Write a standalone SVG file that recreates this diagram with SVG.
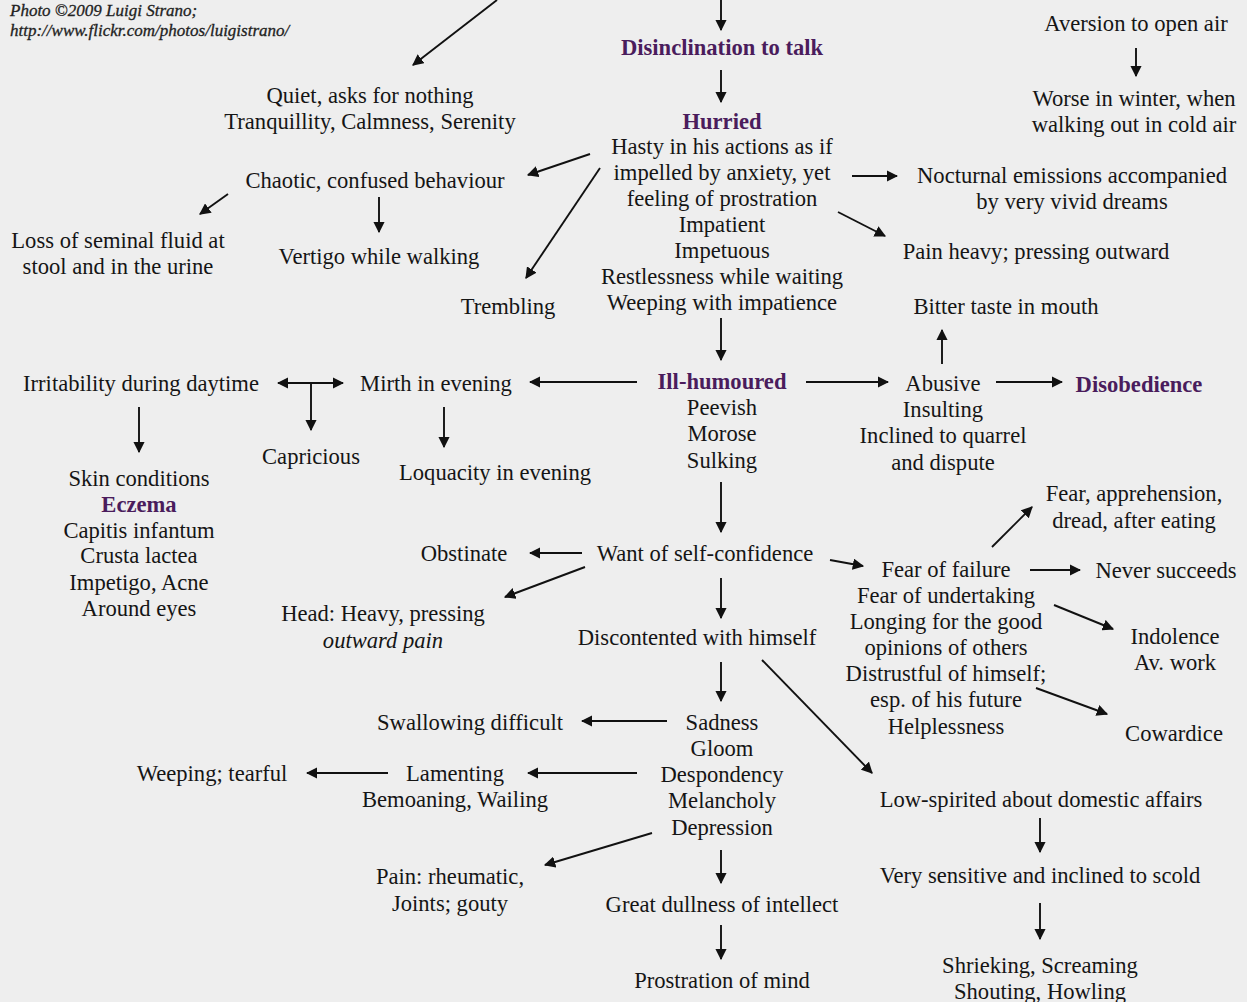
<svg xmlns="http://www.w3.org/2000/svg" width="1247" height="1002" viewBox="0 0 1247 1002">
<defs>
<style>
text{font-family:"Liberation Serif","Times New Roman",serif;font-size:22.6px;fill:#151515;text-anchor:middle}
.h{font-weight:bold;fill:#4a1c5c;font-size:22.6px}
.credit{font-style:italic;font-size:17px;text-anchor:start;fill:#222;stroke:#222;stroke-width:0.3}
.it{font-style:italic}
.c line{stroke:#111;stroke-width:1.9;fill:none;marker-end:url(#ah)}
</style>
<marker id="ah" viewBox="0 0 10 10" refX="9" refY="5" markerWidth="6" markerHeight="6" orient="auto-start-reverse" markerUnits="strokeWidth">
<path d="M0,0 L10,5 L0,10 z" fill="#111"/>
</marker>
</defs>
<rect width="1247" height="1002" fill="#eeeeee"/>
<g id="credit"><text class="credit" x="10" y="16">Photo ©2009 Luigi Strano;</text><text class="credit" x="10" y="36">http://www.flickr.com/photos/luigistrano/</text></g>
<g id="disinclination"><text class="h" x="722" y="55">Disinclination to talk</text></g>
<g id="quiet"><text x="370" y="103">Quiet, asks for nothing</text><text x="370" y="129">Tranquillity, Calmness, Serenity</text></g>
<g id="hurried"><text class="h" x="722" y="129">Hurried</text><text x="722" y="154">Hasty in his actions as if</text><text x="722" y="180">impelled by anxiety, yet</text><text x="722" y="206">feeling of prostration</text><text x="722" y="232">Impatient</text><text x="722" y="258">Impetuous</text><text x="722" y="284">Restlessness while waiting</text><text x="722" y="310">Weeping with impatience</text></g>
<g id="aversion"><text x="1136" y="31">Aversion to open air</text></g>
<g id="worse"><text x="1134" y="106">Worse in winter, when</text><text x="1134" y="132">walking out in cold air</text></g>
<g id="chaotic"><text x="375" y="188">Chaotic, confused behaviour</text></g>
<g id="loss"><text x="118" y="248">Loss of seminal fluid at</text><text x="118" y="274">stool and in the urine</text></g>
<g id="vertigo"><text x="379" y="264">Vertigo while walking</text></g>
<g id="trembling"><text x="508" y="314">Trembling</text></g>
<g id="nocturnal"><text x="1072" y="183">Nocturnal emissions accompanied</text><text x="1072" y="209">by very vivid dreams</text></g>
<g id="pain-heavy"><text x="1036" y="259">Pain heavy; pressing outward</text></g>
<g id="bitter"><text x="1006" y="314">Bitter taste in mouth</text></g>
<g id="ill"><text class="h" x="722" y="389">Ill-humoured</text><text x="722" y="415">Peevish</text><text x="722" y="441">Morose</text><text x="722" y="468">Sulking</text></g>
<g id="mirth"><text x="436" y="391">Mirth in evening</text></g>
<g id="irritability"><text x="141" y="391">Irritability during daytime</text></g>
<g id="capricious"><text x="311" y="464">Capricious</text></g>
<g id="loquacity"><text x="495" y="480">Loquacity in evening</text></g>
<g id="skin"><text x="139" y="486">Skin conditions</text><text class="h" x="139" y="512">Eczema</text><text x="139" y="538">Capitis infantum</text><text x="139" y="563">Crusta lactea</text><text x="139" y="590">Impetigo, Acne</text><text x="139" y="616">Around eyes</text></g>
<g id="abusive"><text x="943" y="391">Abusive</text><text x="943" y="417">Insulting</text><text x="943" y="443">Inclined to quarrel</text><text x="943" y="470">and dispute</text></g>
<g id="disobedience"><text class="h" x="1139" y="392">Disobedience</text></g>
<g id="want"><text x="705" y="561">Want of self-confidence</text></g>
<g id="obstinate"><text x="464" y="561">Obstinate</text></g>
<g id="head"><text x="383" y="621">Head: Heavy, pressing</text><text class="it" x="383" y="648">outward pain</text></g>
<g id="discontented"><text x="697" y="645">Discontented with himself</text></g>
<g id="fear-eating"><text x="1134" y="501">Fear, apprehension,</text><text x="1134" y="528">dread, after eating</text></g>
<g id="fear-failure"><text x="946" y="577">Fear of failure</text><text x="946" y="603">Fear of undertaking</text><text x="946" y="629">Longing for the good</text><text x="946" y="655">opinions of others</text><text x="946" y="681">Distrustful of himself;</text><text x="946" y="707">esp. of his future</text><text x="946" y="734">Helplessness</text></g>
<g id="never"><text x="1166" y="578">Never succeeds</text></g>
<g id="indolence"><text x="1175" y="644">Indolence</text><text x="1175" y="670">Av. work</text></g>
<g id="cowardice"><text x="1174" y="741">Cowardice</text></g>
<g id="sadness"><text x="722" y="730">Sadness</text><text x="722" y="756">Gloom</text><text x="722" y="782">Despondency</text><text x="722" y="808">Melancholy</text><text x="722" y="835">Depression</text></g>
<g id="swallowing"><text x="470" y="730">Swallowing difficult</text></g>
<g id="lamenting"><text x="455" y="781">Lamenting</text><text x="455" y="807">Bemoaning, Wailing</text></g>
<g id="weeping"><text x="212" y="781">Weeping; tearful</text></g>
<g id="pain-rheum"><text x="450" y="884">Pain: rheumatic,</text><text x="450" y="911">Joints; gouty</text></g>
<g id="dullness"><text x="722" y="912">Great dullness of intellect</text></g>
<g id="prostration"><text x="722" y="988">Prostration of mind</text></g>
<g id="low"><text x="1041" y="807">Low-spirited about domestic affairs</text></g>
<g id="sensitive"><text x="1040" y="883">Very sensitive and inclined to scold</text></g>
<g id="shrieking"><text x="1040" y="973">Shrieking, Screaming</text><text x="1040" y="999">Shouting, Howling</text></g>
<g id="connectors" class="c">
<line x1="497" y1="0" x2="413" y2="65"/>
<line x1="721" y1="0" x2="721" y2="30"/>
<line x1="721" y1="70" x2="721" y2="102"/>
<line x1="1136" y1="48" x2="1136" y2="76"/>
<line x1="590" y1="154" x2="528" y2="175"/>
<line x1="228" y1="194" x2="200" y2="214"/>
<line x1="379" y1="197" x2="379" y2="232"/>
<line x1="600" y1="168" x2="526" y2="278"/>
<line x1="852" y1="176" x2="897" y2="176"/>
<line x1="838" y1="212" x2="885" y2="236"/>
<line x1="942" y1="364" x2="942" y2="330"/>
<line x1="721" y1="318" x2="721" y2="360"/>
<line x1="637" y1="382" x2="530" y2="382"/>
<line x1="278" y1="383" x2="343" y2="383" style="marker-start:url(#ah)"/>
<line x1="311" y1="383" x2="311" y2="430"/>
<line x1="139" y1="407" x2="139" y2="452"/>
<line x1="444" y1="407" x2="444" y2="447"/>
<line x1="806" y1="382" x2="888" y2="382"/>
<line x1="996" y1="382" x2="1062" y2="382"/>
<line x1="721" y1="482" x2="721" y2="532"/>
<line x1="582" y1="553" x2="530" y2="553"/>
<line x1="585" y1="567" x2="505" y2="597"/>
<line x1="830" y1="560" x2="863" y2="566"/>
<line x1="721" y1="578" x2="721" y2="618"/>
<line x1="992" y1="547" x2="1032" y2="507"/>
<line x1="1030" y1="570" x2="1080" y2="570"/>
<line x1="1054" y1="605" x2="1113" y2="629"/>
<line x1="1036" y1="688" x2="1107" y2="714"/>
<line x1="762" y1="660" x2="872" y2="773"/>
<line x1="721" y1="662" x2="721" y2="701"/>
<line x1="667" y1="721" x2="582" y2="721"/>
<line x1="637" y1="773" x2="528" y2="773"/>
<line x1="388" y1="773" x2="307" y2="773"/>
<line x1="652" y1="833" x2="545" y2="865"/>
<line x1="721" y1="850" x2="721" y2="883"/>
<line x1="721" y1="925" x2="721" y2="959"/>
<line x1="1040" y1="818" x2="1040" y2="852"/>
<line x1="1040" y1="903" x2="1040" y2="939"/>
</g>
</svg>
